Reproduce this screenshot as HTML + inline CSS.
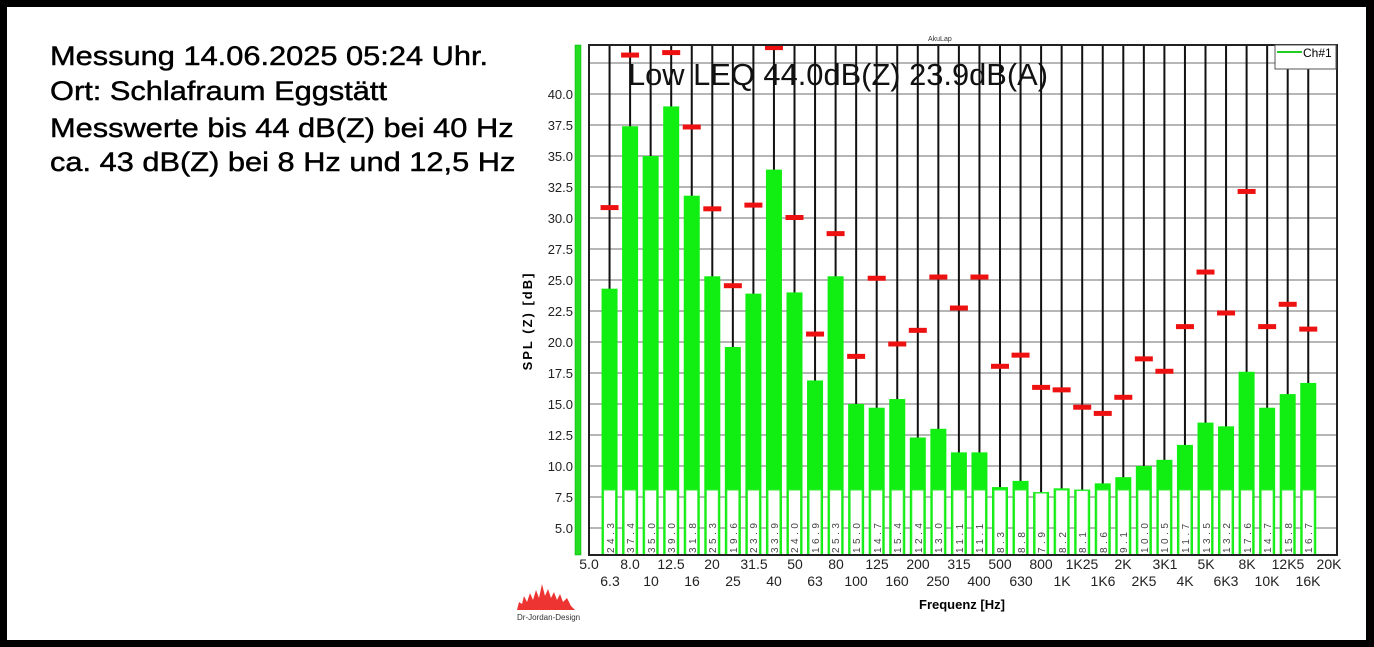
<!DOCTYPE html>
<html><head><meta charset="utf-8"><style>
html,body{margin:0;padding:0;background:#000;}
#f{position:absolute;left:0;top:0;width:1374px;height:647px;background:#000;}
#w{position:absolute;left:7px;top:7px;width:1359px;height:633px;background:#fff;}
.t{position:absolute;left:50px;font:27px "Liberation Sans",sans-serif;line-height:30px;color:#000;white-space:nowrap;-webkit-text-stroke:0.45px #000;transform-origin:0 0;transform:scaleX(1.14);}
svg{position:absolute;left:0;top:0;}
</style></head><body>
<div id="f"><div id="w"></div>
<div class="t" style="top:41px">Messung 14.06.2025 05:24 Uhr.</div>
<div class="t" style="top:76px">Ort: Schlafraum Eggstätt</div>
<div class="t" style="top:113px">Messwerte bis 44 dB(Z) bei 40 Hz</div>
<div class="t" style="top:147px">ca. 43 dB(Z) bei 8 Hz und 12,5 Hz</div>
<svg id="s" width="1374" height="647" font-family="Liberation Sans, sans-serif">
<g id="grid"></g><g id="bars"></g><g id="red"></g>
<g font-size="10" fill="#444" letter-spacing="3.5">
<text transform="translate(614,553) rotate(-90)">24.3</text>
<text transform="translate(634,553) rotate(-90)">37.4</text>
<text transform="translate(655,553) rotate(-90)">35.0</text>
<text transform="translate(675,553) rotate(-90)">39.0</text>
<text transform="translate(696,553) rotate(-90)">31.8</text>
<text transform="translate(716,553) rotate(-90)">25.3</text>
<text transform="translate(737,553) rotate(-90)">19.6</text>
<text transform="translate(757,553) rotate(-90)">23.9</text>
<text transform="translate(778,553) rotate(-90)">33.9</text>
<text transform="translate(798,553) rotate(-90)">24.0</text>
<text transform="translate(819,553) rotate(-90)">16.9</text>
<text transform="translate(839,553) rotate(-90)">25.3</text>
<text transform="translate(860,553) rotate(-90)">15.0</text>
<text transform="translate(881,553) rotate(-90)">14.7</text>
<text transform="translate(901,553) rotate(-90)">15.4</text>
<text transform="translate(922,553) rotate(-90)">12.4</text>
<text transform="translate(942,553) rotate(-90)">13.0</text>
<text transform="translate(963,553) rotate(-90)">11.1</text>
<text transform="translate(983,553) rotate(-90)">11.1</text>
<text transform="translate(1004,553) rotate(-90)">8.3</text>
<text transform="translate(1025,553) rotate(-90)">8.8</text>
<text transform="translate(1045,553) rotate(-90)">7.9</text>
<text transform="translate(1066,553) rotate(-90)">8.2</text>
<text transform="translate(1086,553) rotate(-90)">8.1</text>
<text transform="translate(1107,553) rotate(-90)">8.6</text>
<text transform="translate(1127,553) rotate(-90)">9.1</text>
<text transform="translate(1148,553) rotate(-90)">10.0</text>
<text transform="translate(1168,553) rotate(-90)">10.5</text>
<text transform="translate(1189,553) rotate(-90)">11.7</text>
<text transform="translate(1210,553) rotate(-90)">13.5</text>
<text transform="translate(1230,553) rotate(-90)">13.2</text>
<text transform="translate(1251,553) rotate(-90)">17.6</text>
<text transform="translate(1271,553) rotate(-90)">14.7</text>
<text transform="translate(1292,553) rotate(-90)">15.8</text>
<text transform="translate(1312,553) rotate(-90)">16.7</text>
</g>
<g id="top"></g>
<rect x="575" y="45" width="6" height="510" fill="#22dd22" stroke="#0a0" stroke-width="0.5"/>
<g font-size="13" fill="#222" text-anchor="end">
<text x="573" y="99">40.0</text><text x="573" y="130">37.5</text><text x="573" y="161">35.0</text>
<text x="573" y="192">32.5</text><text x="573" y="223">30.0</text><text x="573" y="254">27.5</text>
<text x="573" y="285">25.0</text><text x="573" y="316">22.5</text><text x="573" y="347">20.0</text>
<text x="573" y="378">17.5</text><text x="573" y="409">15.0</text><text x="573" y="440">12.5</text>
<text x="573" y="471">10.0</text><text x="573" y="502">7.5</text><text x="573" y="533">5.0</text>
</g>
<text transform="translate(532,321) rotate(-90)" font-size="13" font-weight="bold" text-anchor="middle" letter-spacing="2">SPL (Z) [dB]</text>
<g font-size="14" fill="#222" text-anchor="middle">
<text x="589" y="569">5.0</text><text x="630" y="569">8.0</text><text x="671" y="569">12.5</text>
<text x="712" y="569">20</text><text x="754" y="569">31.5</text><text x="795" y="569">50</text>
<text x="836" y="569">80</text><text x="877" y="569">125</text><text x="918" y="569">200</text>
<text x="959" y="569">315</text><text x="1000" y="569">500</text><text x="1041" y="569">800</text>
<text x="1082" y="569">1K25</text><text x="1123" y="569">2K</text><text x="1165" y="569">3K1</text>
<text x="1206" y="569">5K</text><text x="1247" y="569">8K</text><text x="1288" y="569">12K5</text>
<text x="1329" y="569">20K</text>
<text x="610" y="586">6.3</text><text x="651" y="586">10</text><text x="692" y="586">16</text>
<text x="733" y="586">25</text><text x="774" y="586">40</text><text x="815" y="586">63</text>
<text x="856" y="586">100</text><text x="897" y="586">160</text><text x="938" y="586">250</text>
<text x="979" y="586">400</text><text x="1021" y="586">630</text><text x="1062" y="586">1K</text>
<text x="1103" y="586">1K6</text><text x="1144" y="586">2K5</text><text x="1185" y="586">4K</text>
<text x="1226" y="586">6K3</text><text x="1267" y="586">10K</text><text x="1308" y="586">16K</text>
</g>
<text x="962" y="609" font-size="13" font-weight="bold" text-anchor="middle">Frequenz [Hz]</text>
<text x="928" y="41" font-size="7" fill="#333">AkuLap</text>
<text x="628" y="85" font-size="31" fill="#111" textLength="420" lengthAdjust="spacingAndGlyphs">Low LEQ 44.0dB(Z) 23.9dB(A)</text>
<rect x="1275" y="45" width="61" height="24" fill="#fff" stroke="#555" stroke-width="1"/>
<line x1="1277" y1="52" x2="1302" y2="52" stroke="#22cc22" stroke-width="2"/>
<text x="1303" y="57" font-size="12">Ch#1</text>
<g transform="translate(517,584)">
<path d="M0,26 L2,18 L5,20 L7,12 L10,18 L13,9 L16,16 L19,6 L22,14 L25,0 L28,12 L31,5 L34,14 L37,8 L40,16 L43,10 L46,18 L50,14 L54,22 L58,26 Z" fill="#e33"/>
<text x="0" y="36" font-size="8" fill="#333">Dr-Jordan-Design</text>
</g>
</svg></div>
<script>
var NS="http://www.w3.org/2000/svg";
function el(p,t,a){var e=document.createElementNS(NS,t);for(var k in a)e.setAttribute(k,a[k]);document.getElementById(p).appendChild(e);return e;}
var X0=589,DX=20.55,L=589,R=1337,T=45,B=555;
function y(v){return 94-(v-40)*12.4;}
for(var v=5;v<=42.5;v+=2.5){el("grid","line",{x1:L,x2:R,y1:y(v),y2:y(v),stroke:"#8a8a8a","stroke-width":1.2});}
for(var i=1;i<36;i++){var x=X0+DX*i;el("grid","line",{x1:x,x2:x,y1:T,y2:B,stroke:"#111","stroke-width":2});}
el("top","rect",{x:L,y:T,width:R-L,height:B-T,fill:"none",stroke:"#222","stroke-width":2});
var vals=[24.3,37.4,35.0,39.0,31.8,25.3,19.6,23.9,33.9,24.0,16.9,25.3,15.0,14.7,15.4,12.3,13.0,11.1,11.1,8.3,8.8,7.9,8.2,8.1,8.6,9.1,10.0,10.5,11.7,13.5,13.2,17.6,14.7,15.8,16.7];
for(var i=0;i<vals.length;i++){var c=X0+DX*(i+1),w=16,x=c-w/2,yt=y(vals[i]);
 el("bars","rect",{x:x,y:yt,width:w,height:B-yt,fill:"#11ee11"});
 var wt=Math.max(yt,489);
 el("bars","rect",{x:x+2,y:wt+1,width:w-4,height:B-wt-1.5,fill:"#fff",stroke:"#33ee33","stroke-width":1});
}
var red={1:30.8,2:43.1,4:43.3,5:37.3,6:30.7,7:24.5,8:31.0,9:43.7,10:30.0,11:20.6,12:28.7,13:18.8,14:25.1,15:19.8,16:20.9,17:25.2,18:22.7,19:25.2,20:18.0,21:18.9,22:16.3,23:16.1,24:14.7,25:14.2,26:15.5,27:18.6,28:17.6,29:21.2,30:25.6,31:22.3,32:32.1,33:21.2,34:23.0,35:21.0};
for(var k in red){var c=X0+DX*k;el("red","rect",{x:c-9,y:y(red[k])-3,width:18,height:5,fill:"#ee1111"});}
</script>
</body></html>
